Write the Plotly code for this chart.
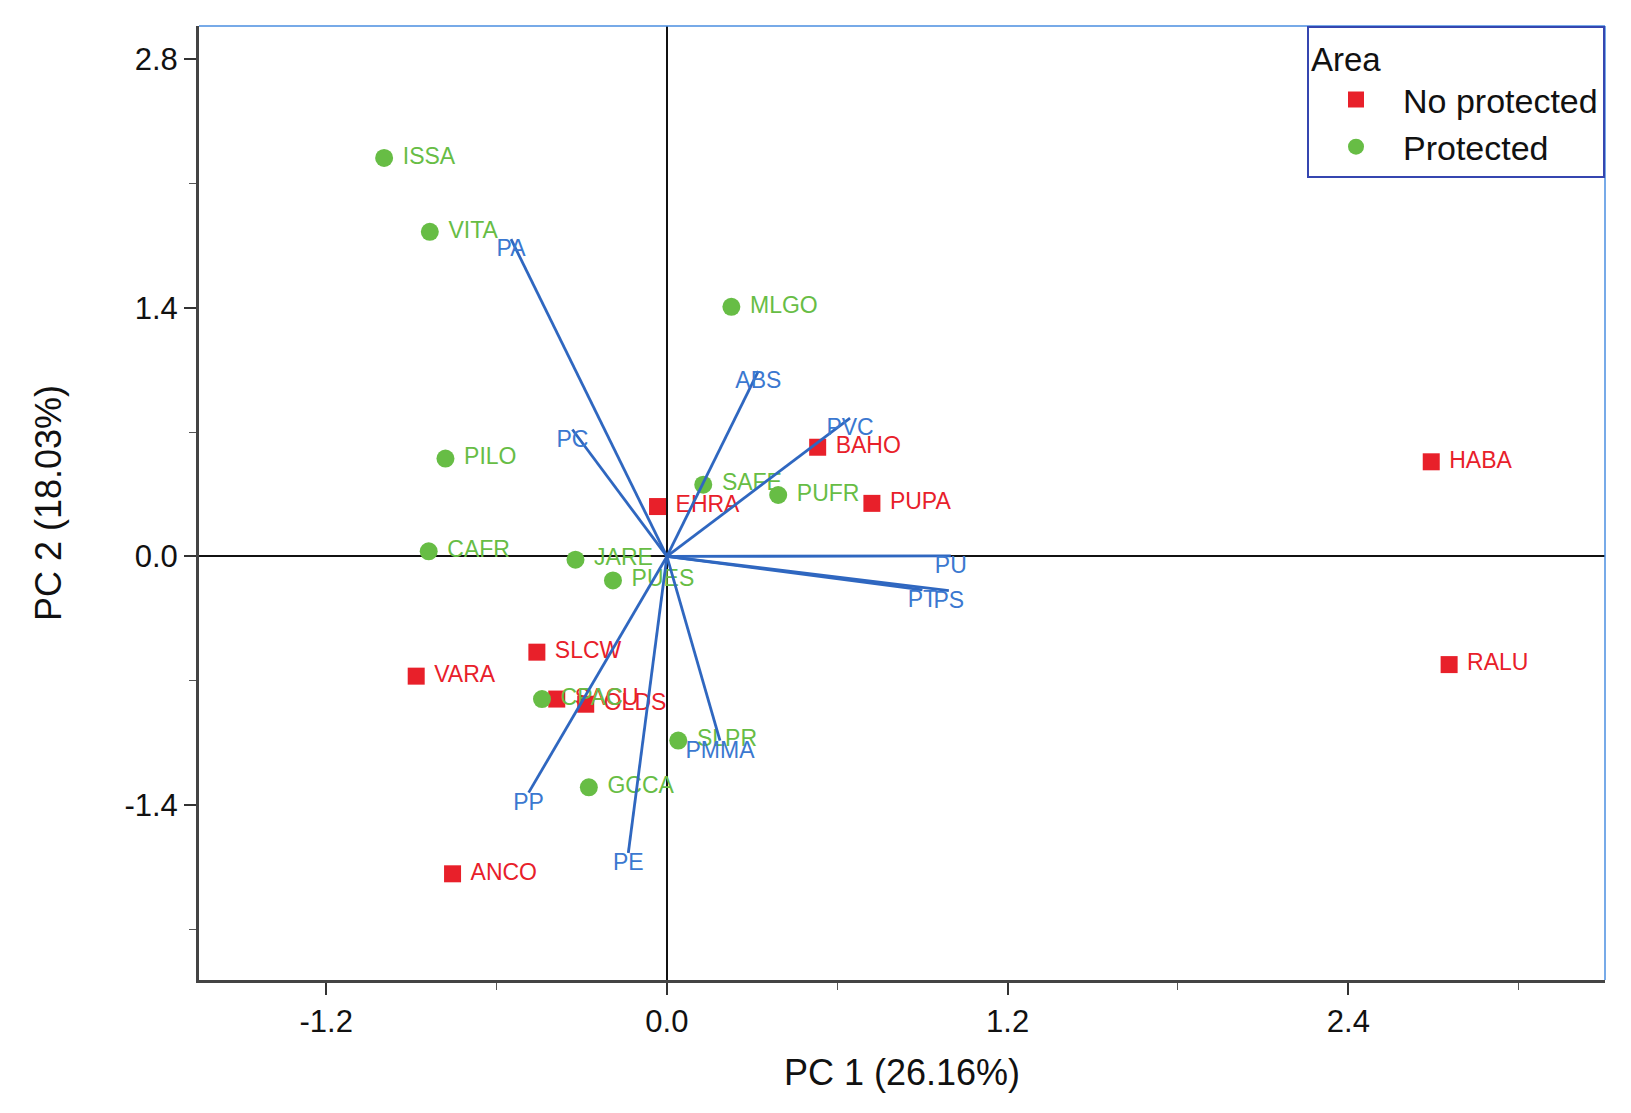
import plotly.graph_objects as go

# ---- data ----
prot_names = ["ISSA", "VITA", "MLGO", "PILO", "SAFE", "PUFR", "CAFR", "JARE", "PUES", "CPAC", "SLPR", "GCCA"]
prot_pc1 = [-0.996, -0.835, 0.227, -0.780, 0.128, 0.392, -0.839, -0.322, -0.190, -0.440, 0.040, -0.275]
prot_pc2 = [2.244, 1.828, 1.406, 0.551, 0.404, 0.346, 0.029, -0.018, -0.135, -0.803, -1.037, -1.300]

noprot_names = ["BAHO", "PUPA", "EHRA", "HABA", "RALU", "SLCW", "VARA", "ANCO", "SACU", "OLDS"]
noprot_pc1 = [0.531, 0.722, -0.033, 2.692, 2.755, -0.458, -0.883, -0.755, -0.388, -0.286]
noprot_pc2 = [0.615, 0.299, 0.281, 0.533, -0.609, -0.539, -0.674, -1.787, -0.803, -0.832]

load_names = ["PA", "PC", "ABS", "PVC", "PU", "PT", "PS", "PE", "PP", "PMMA"]
load_pc1 = [-0.549, -0.333, 0.322, 0.645, 1.000, 0.900, 0.993, -0.136, -0.487, 0.187]
load_pc2 = [1.787, 0.715, 1.043, 0.779, 0.003, -0.188, -0.193, -1.670, -1.330, -1.037]

x_ticks = [-1.2, 0.0, 1.2, 2.4]
x_minor = [-0.6, 0.6, 1.8, 3.0]
y_ticks = [-1.4, 0.0, 1.4, 2.8]
y_minor = [-2.1, -0.7, 0.7, 2.1]

RED = "#e8202a"
GREEN = "#67bd45"
BLUE_LINE = "#2f67c0"
BLUE_TEXT = "#3b78d0"
FONT = "Liberation Sans, Arial, sans-serif"
NB = "\u00a0"

fig = go.Figure()

fig.add_trace(go.Scatter(
    x=noprot_pc1, y=noprot_pc2, text=noprot_names, name="No protected",
    mode="markers+text", textposition="middle right",
    texttemplate=NB + "%{text}",
    marker=dict(symbol="square", size=17, color=RED),
    textfont=dict(color=RED, size=23, family=FONT),
))
fig.add_trace(go.Scatter(
    x=prot_pc1, y=prot_pc2, text=prot_names, name="Protected",
    mode="markers+text", textposition="middle right",
    texttemplate=NB + "%{text}",
    marker=dict(symbol="circle", size=18, color=GREEN),
    textfont=dict(color=GREEN, size=23, family=FONT),
))

# loading vectors
lx, ly = [], []
for a, b in zip(load_pc1, load_pc2):
    lx += [0, a, None]
    ly += [0, b, None]
fig.add_trace(go.Scatter(
    x=lx, y=ly, mode="lines", line=dict(color=BLUE_LINE, width=2.8),
    showlegend=False, hoverinfo="skip",
))
fig.add_trace(go.Scatter(
    x=load_pc1, y=load_pc2, text=load_names, mode="text",
    textposition="bottom center",
    textfont=dict(color=BLUE_TEXT, size=23, family=FONT),
    showlegend=False,
))

def fmt(v):
    return f"{v:.1f}"

fig.update_xaxes(
    range=[-1.648, 3.304],
    tickmode="array", tickvals=x_ticks, ticktext=[fmt(v) for v in x_ticks],
    ticks="outside", ticklen=12, tickwidth=1.5, tickcolor="#333",
    minor=dict(tickmode="array", tickvals=x_minor, ticks="outside", ticklen=7, tickwidth=1.2, tickcolor="#555"),
    showgrid=False, zeroline=True, zerolinecolor="#111", zerolinewidth=1.5,
    showline=True, linecolor="#444", linewidth=3,
    tickfont=dict(size=31, color="#111", family=FONT),
    title=dict(text="PC 1 (26.16%)", font=dict(size=36, color="#111", family=FONT), standoff=22),
)
fig.update_yaxes(
    range=[-2.385, 2.987],
    tickmode="array", tickvals=y_ticks, ticktext=[fmt(v) for v in y_ticks],
    ticks="outside", ticklen=12, tickwidth=1.5, tickcolor="#333",
    minor=dict(tickmode="array", tickvals=y_minor, ticks="outside", ticklen=7, tickwidth=1.2, tickcolor="#555"),
    showgrid=False, zeroline=True, zerolinecolor="#111", zerolinewidth=1.5,
    showline=True, linecolor="#444", linewidth=3,
    tickfont=dict(size=31, color="#111", family=FONT),
    title=dict(text="PC 2 (18.03%)", font=dict(size=36, color="#111", family=FONT), standoff=52),
)

# top / right frame in blue
fig.add_shape(type="line", xref="x domain", yref="y domain", x0=0, x1=1, y0=1, y1=1,
              line=dict(color="#4a8ee0", width=1.5))
fig.add_shape(type="line", xref="x domain", yref="y domain", x0=1, x1=1, y0=0, y1=1,
              line=dict(color="#4a8ee0", width=1.5))

fig.update_layout(
    width=1631, height=1113,
    margin=dict(l=199, r=26, t=26, b=133),
    plot_bgcolor="white", paper_bgcolor="white",
    font=dict(family=FONT),
    legend=dict(
        title=dict(text="Area", font=dict(size=33, color="#111", family=FONT)),
        font=dict(size=34, color="#111", family=FONT),
        x=1, xanchor="right", y=1, yanchor="top",
        bordercolor="#3546b0", borderwidth=2, bgcolor="white",
        itemsizing="trace", itemwidth=84, tracegroupgap=0,
    ),
)

fig.write_html("out.html")
